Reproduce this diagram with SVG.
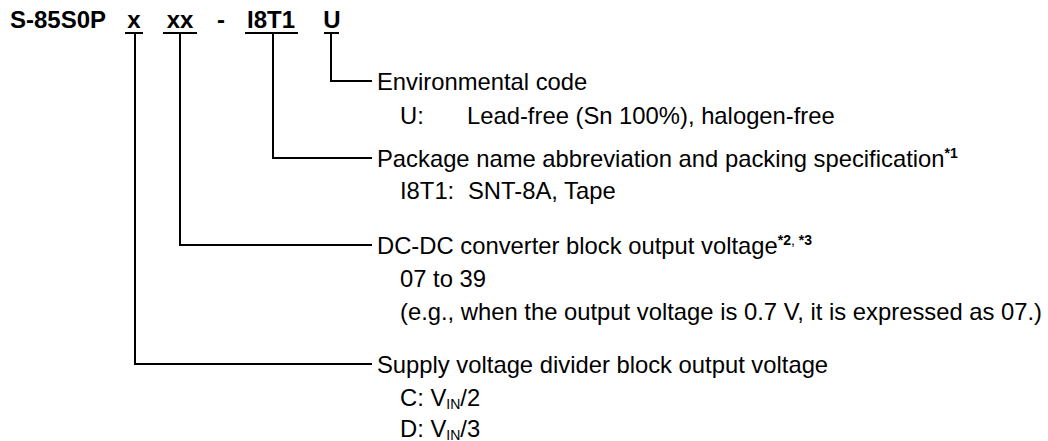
<svg xmlns="http://www.w3.org/2000/svg" width="1048" height="441" viewBox="0 0 1048 441">
<style>
.code{font-family:"Liberation Sans",Arial,sans-serif;font-weight:bold;font-size:24px;fill:#000}
.t{font-family:"Liberation Sans",Arial,sans-serif;font-size:23.8px;fill:#000}
.sup{font-size:14px;font-weight:bold}
.sub{font-size:14px}
.ln{stroke:#000;stroke-width:2;fill:none}
</style>
<rect width="1048" height="441" fill="#fff"/>
<g id="code">
<text class="code" x="10" y="28">S-85S0P</text>
<text class="code" x="134" y="28" text-anchor="middle">x</text>
<text class="code" x="180" y="28" text-anchor="middle">xx</text>
<text class="code" x="221" y="28" text-anchor="middle">-</text>
<text class="code" x="271" y="28" text-anchor="middle">I8T1</text>
<text class="code" x="332" y="28" text-anchor="middle">U</text>
<path class="ln" d="M125 33H143M163 33H197M245 33H298M324 33H339"/>
</g>
<g id="connectors">
<path class="ln" d="M331 33V81H372"/>
<path class="ln" d="M273 33V158H372"/>
<path class="ln" d="M180 33V245H372"/>
<path class="ln" d="M135 33V364H372"/>
</g>
<g id="env">
<text class="t" x="377" y="90">Environmental code</text>
<text class="t" x="400" y="124">U:</text>
<text class="t" x="467" y="124">Lead-free (Sn 100%), halogen-free</text>
</g>
<g id="pkg">
<text class="t" x="377" y="167">Package name abbreviation and packing specification<tspan class="sup" dy="-9">*1</tspan></text>
<text class="t" x="400" y="199">I8T1:</text>
<text class="t" x="468" y="199">SNT-8A, Tape</text>
</g>
<g id="dcdc">
<text class="t" x="377" y="254">DC-DC converter block output voltage<tspan class="sup" dy="-9">*2</tspan><tspan font-size="14px">, </tspan><tspan class="sup">*3</tspan></text>
<text class="t" x="400" y="287">07 to 39</text>
<text class="t" x="400" y="320">(e.g., when the output voltage is 0.7 V, it is expressed as 07.)</text>
</g>
<g id="div">
<text class="t" x="377" y="373">Supply voltage divider block output voltage</text>
<text class="t" x="400" y="406">C: V<tspan class="sub" dy="3">IN</tspan><tspan dy="-3">/2</tspan></text>
<text class="t" x="400" y="437">D: V<tspan class="sub" dy="3">IN</tspan><tspan dy="-3">/3</tspan></text>
</g>
</svg>
